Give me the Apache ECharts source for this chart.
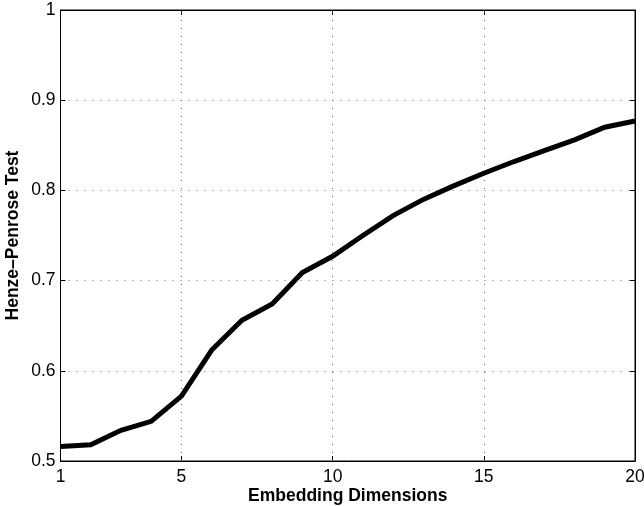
<!DOCTYPE html>
<html>
<head>
<meta charset="utf-8">
<script src="https://cdn.jsdelivr.net/npm/echarts@6/dist/echarts.min.js"></script>
<style>
  html, body { margin: 0; padding: 0; background: #fff; }
  #chart { width: 644px; height: 506px; }
</style>
</head>
<body>
<div id="chart"></div>
<script>
// Embedding dimension vs. Henze–Penrose test value
const dims = [1, 2, 3, 4, 5, 6, 7, 8, 9, 10, 11, 12, 13, 14, 15, 16, 17, 18, 19, 20];
const hpValues = [0.516, 0.518, 0.534, 0.544, 0.572, 0.623, 0.656, 0.674, 0.709, 0.727,
                  0.750, 0.772, 0.790, 0.805, 0.819, 0.832, 0.844, 0.856, 0.870, 0.877];
const xTicks = [1, 5, 10, 15, 20];
const xGridAt = [5, 10, 15];

const FONT = '"Liberation Sans", Arial, Helvetica, sans-serif';

const chart = echarts.init(document.getElementById('chart'), null, { renderer: 'canvas' });

const tickStyle = { show: true, inside: true, length: 5, lineStyle: { color: '#000', width: 1 } };
const dotted = { color: '#666', width: 1, type: [1, 7] };

chart.setOption({
  animation: false,
  backgroundColor: '#fff',
  grid: {
    left: 60.5, right: 9, top: 10, bottom: 45,
    containLabel: false, outerBoundsMode: 'none',
    show: true, borderColor: '#000', borderWidth: 1, backgroundColor: 'transparent'
  },
  xAxis: [
    {
      type: 'value', min: 1, max: 20, position: 'bottom',
      name: 'Embedding Dimensions', nameLocation: 'middle', nameGap: 26, nameMoveOverlap: false,
      nameTextStyle: { fontFamily: FONT, fontSize: 17.5, fontWeight: 'bold', color: '#000' },
      axisLine: { show: true, lineStyle: { color: '#000', width: 1 } },
      axisTick: Object.assign({ customValues: xTicks }, tickStyle),
      axisLabel: { customValues: xTicks, margin: 7, fontFamily: FONT, fontSize: 17.5, color: '#000' },
      splitLine: { show: false }
    },
    {
      type: 'value', min: 1, max: 20, position: 'top',
      axisLine: { show: true, lineStyle: { color: '#000', width: 1 } },
      axisTick: Object.assign({ customValues: xTicks }, tickStyle),
      axisLabel: { show: false },
      splitLine: { show: false }
    }
  ],
  yAxis: [
    {
      type: 'value', min: 0.5, max: 1, interval: 0.1, position: 'left',
      name: 'Henze\u2013Penrose Test', nameLocation: 'middle', nameGap: 38, nameMoveOverlap: false,
      nameTextStyle: { fontFamily: FONT, fontSize: 17.5, fontWeight: 'bold', color: '#000' },
      axisLine: { show: true, lineStyle: { color: '#000', width: 1 } },
      axisTick: tickStyle,
      axisLabel: {
        margin: 5, fontFamily: FONT, fontSize: 17.5, color: '#000',
        formatter: v => (Math.round(v * 10) / 10).toString()
      },
      splitLine: { show: true, lineStyle: dotted }
    },
    {
      type: 'value', min: 0.5, max: 1, interval: 0.1, position: 'right',
      axisLine: { show: true, lineStyle: { color: '#000', width: 1 } },
      axisTick: tickStyle,
      axisLabel: { show: false },
      splitLine: { show: false }
    }
  ],
  series: [
    {
      type: 'line',
      xAxisIndex: 0, yAxisIndex: 0,
      data: dims.map((d, i) => [d, hpValues[i]]),
      showSymbol: false,
      lineStyle: { color: '#000', width: 5, join: 'miter' },
      z: 5,
      markLine: {
        silent: true, symbol: 'none', label: { show: false },
        lineStyle: dotted,
        data: xGridAt.map(v => ({ xAxis: v }))
      }
    }
  ]
});
</script>
</body>
</html>
